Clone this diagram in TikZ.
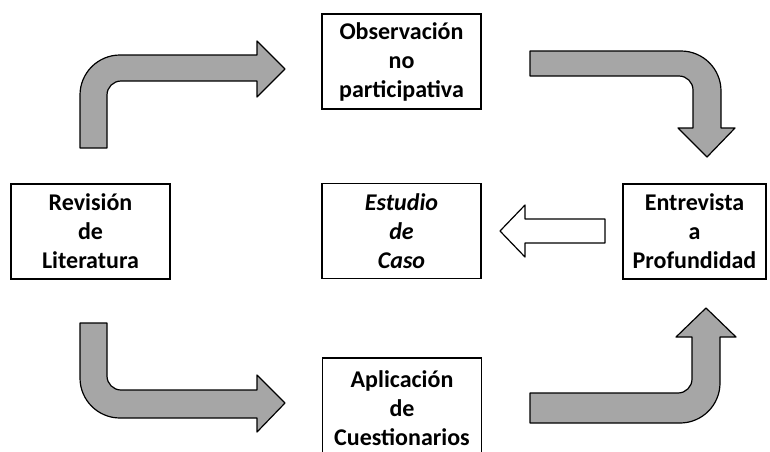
\documentclass[tikz,border=0pt]{standalone}
\usepackage{fontspec}
\setmainfont{Carlito}
\definecolor{arrowgray}{RGB}{166,166,166}

\begin{document}
\begin{tikzpicture}[x=1pt,y=-1pt,
      box/.style={draw,line width=1.2pt,minimum width=159pt,minimum height=95pt,
        inner sep=0pt,align=center,font=\fontsize{24}{29}\selectfont\bfseries},
      bent/.style={draw,line width=1.2pt,fill=arrowgray,line join=round}]
      \clip (0,0) rectangle (770,451);

      \node[box] (obs) at (401.5, 61.5) { Observación\\no\\participativa };
      \node[box] (rev) at ( 90.5,231.5) { Revisión\\de\\Literatura };
      \node[box,font=\fontsize{24}{29}\selectfont\bfseries\itshape] (est) at (401.5,231) { Estudio\\de\\Caso };
      \node[box,minimum width=143pt] (ent) at (694.5,231.5) { Entrevista\\a\\Profundidad };
      \node[box,minimum height=101pt] (apl) at (402,408.5) { Aplicación\\de\\Cuestionarios };

      % bent arrows
      \draw[bent] (80,148) [rounded corners=40pt] -- (80,55) [sharp corners] -- (257,55)
        -- (257,41) -- (285,69) -- (257,97) -- (257,81)
        [rounded corners=14pt] -- (107,81) [sharp corners] -- (107,148) -- cycle;
      \draw[bent] (530,51) [rounded corners=40pt] -- (721,51) [sharp corners] -- (721,128)
        -- (735,128) -- (707,157) -- (678,128) -- (693,128)
        [rounded corners=14pt] -- (693,76) [sharp corners] -- (530,76) -- cycle;
      \draw[bent] (80,323) [rounded corners=40pt] -- (80,418) [sharp corners] -- (257,418)
        -- (257,432) -- (285,403) -- (257,375) -- (257,390)
        [rounded corners=14pt] -- (107,390) [sharp corners] -- (107,323) -- cycle;
      \draw[bent] (530,423) [rounded corners=40pt] -- (720,423) [sharp corners] -- (720,337)
        -- (736,337) -- (706,308) -- (676,337) -- (692,337)
        [rounded corners=14pt] -- (692,393) [sharp corners] -- (530,393) -- cycle;

      % hollow arrow
      \draw[bent,fill=white] (605,219) -- (525,219) -- (525,205) -- (500,231)
        -- (525,257) -- (525,243) -- (605,243) -- cycle;
\end{tikzpicture}
\end{document}
